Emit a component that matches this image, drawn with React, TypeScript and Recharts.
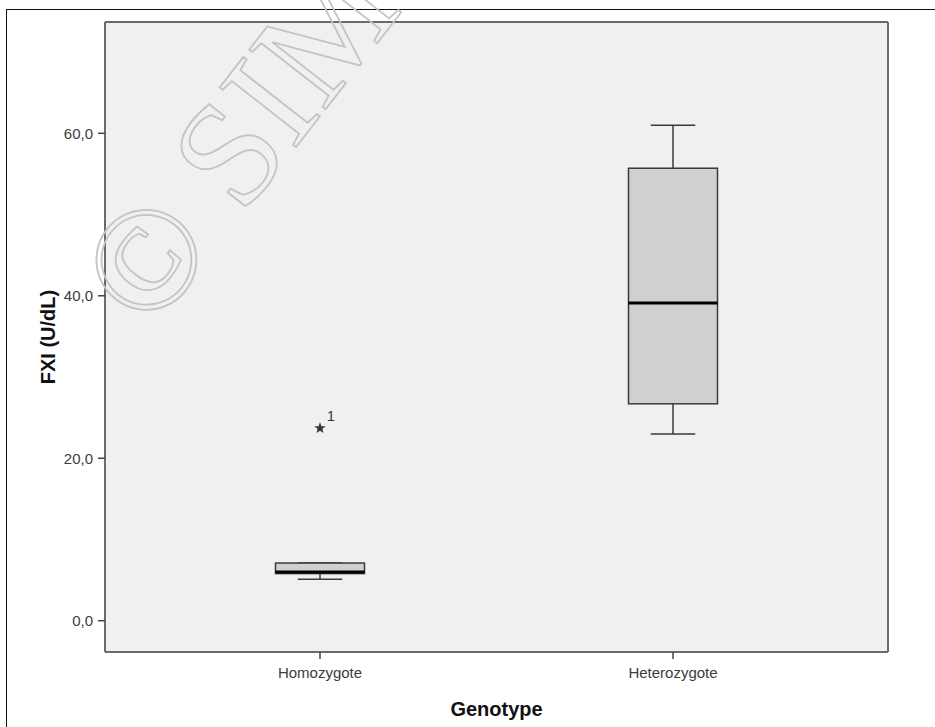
import React from 'react';
import { ComposedChart, Bar, Scatter, XAxis, YAxis, CartesianGrid } from 'recharts';

const genotypes = ['Homozygote', 'Heterozygote'];
const whiskerLow = [5.1, 23.0];
const q1 = [5.8, 26.7];
const median = [6.0, 39.1];
const q3 = [7.1, 55.7];
const whiskerHigh = [7.1, 61.0];
const outliers: (number | null)[] = [23.7, null];
const outlierLabels = ['1', ''];
const yTicks = [0, 20, 40, 60];
const yDomain: [number, number] = [-3.85, 73.7];

const data = genotypes.map((g, i) => ({
  genotype: g,
  box: [q1[i], q3[i]],
  q1: q1[i],
  q3: q3[i],
  median: median[i],
  lo: whiskerLow[i],
  hi: whiskerHigh[i],
  outlier: outliers[i],
  outlierLabel: outlierLabels[i],
}));

const SANS = '"Liberation Sans", Arial, sans-serif';
const FRAME = { stroke: '#6a6a6a', strokeWidth: 2 };

const BoxShape = (props: any) => {
  const { x, y, width, height, payload } = props;
  if (!payload) return <g />;
  const top = Math.min(y, y + height);
  const h = Math.abs(height);
  const k = h / (payload.q3 - payload.q1);
  const py = (v: number) => top + (payload.q3 - v) * k;
  const cx = x + width / 2;
  const cap = width / 4;
  const wc = '#3a3a3a';
  return (
    <g>
      <line x1={cx} x2={cx} y1={py(payload.hi)} y2={top} stroke={wc} strokeWidth={1.5} />
      <line x1={cx} x2={cx} y1={top + h} y2={py(payload.lo)} stroke={wc} strokeWidth={1.5} />
      <line x1={cx - cap} x2={cx + cap} y1={py(payload.hi)} y2={py(payload.hi)} stroke={wc} strokeWidth={1.5} />
      <line x1={cx - cap} x2={cx + cap} y1={py(payload.lo)} y2={py(payload.lo)} stroke={wc} strokeWidth={1.5} />
      <rect x={x} y={top} width={width} height={h} fill="#d0d0d0" stroke={wc} strokeWidth={1.5} />
      <line x1={x} x2={x + width} y1={py(payload.median)} y2={py(payload.median)} stroke="#000" strokeWidth={3} />
    </g>
  );
};

const StarShape = (props: any) => {
  const { cx, cy, payload } = props;
  if (!payload || payload.outlier == null || !Number.isFinite(cx) || !Number.isFinite(cy)) return <g />;
  const pts: string[] = [];
  for (let i = 0; i < 10; i++) {
    const r = i % 2 === 0 ? 6 : 2.5;
    const a = -Math.PI / 2 + (i * Math.PI) / 5;
    pts.push(`${cx + r * Math.cos(a)},${cy + r * Math.sin(a)}`);
  }
  return (
    <g>
      <polygon points={pts.join(' ')} fill="#3a3a3a" />
      <text x={cx + 11} y={cy - 7} textAnchor="middle" fontSize={14} fontFamily={SANS} fill="#333">
        {payload.outlierLabel}
      </text>
    </g>
  );
};

const fmt = (v: number) => v.toFixed(1).replace('.', ',');

export default function App() {
  return (
    <div style={{ position: 'absolute', left: 0, top: 0, width: 935, height: 727, background: '#fff', overflow: 'hidden' }}>
      <div style={{ position: 'absolute', left: 6, top: 9, width: 1000, height: 1000, borderLeft: '1.5px solid #111', borderTop: '1.5px solid #111' }} />
      <div style={{ position: 'absolute', left: 0, top: 0 }}>
        <ComposedChart width={935} height={727} data={data} margin={{ top: 21, right: 46, bottom: 0, left: 0 }}>
          <CartesianGrid fill="#f0f0f0" horizontal={false} vertical={false} />
          <XAxis
            dataKey="genotype"
            type="category"
            height={75}
            padding={{ left: 38.5, right: 38.5 }}
            axisLine={FRAME}
            tickLine={{ stroke: '#444', strokeWidth: 1.5 }}
            tickSize={7}
            tickMargin={8}
            tick={{ fill: '#3c3c3c', fontSize: 15, fontFamily: SANS }}
            label={(p: any) => {
              const vb = p.viewBox || {};
              return (
                <text x={vb.x + vb.width / 2} y={vb.y + 57} textAnchor="middle" dominantBaseline="central" fontSize={20} fontWeight="bold" fontFamily={SANS} fill="#111">
                  Genotype
                </text>
              );
            }}
          />
          <XAxis xAxisId="top" dataKey="genotype" type="category" orientation="top" height={1} axisLine={FRAME} tick={false} tickLine={false} />
          <YAxis
            type="number"
            domain={yDomain}
            allowDataOverflow
            ticks={yTicks}
            tickFormatter={fmt}
            width={105}
            axisLine={FRAME}
            tickLine={{ stroke: '#444', strokeWidth: 1.5 }}
            tickSize={7}
            tickMargin={5}
            tick={{ fill: '#3c3c3c', fontSize: 15, fontFamily: SANS }}
            label={(p: any) => {
              const vb = p.viewBox || {};
              const lx = vb.x + 48;
              const ly = vb.y + vb.height / 2;
              return (
                <text x={lx} y={ly} transform={`rotate(-90 ${lx} ${ly})`} textAnchor="middle" dominantBaseline="central" fontSize={20} fontWeight="bold" fontFamily={SANS} fill="#111">
                  FXI (U/dL)
                </text>
              );
            }}
          />
          <YAxis yAxisId="right" type="number" domain={yDomain} orientation="right" width={1} axisLine={FRAME} tick={false} tickLine={false} />
          <Bar dataKey="box" barSize={89} shape={<BoxShape />} isAnimationActive={false} />
          <Scatter dataKey="outlier" shape={<StarShape />} isAnimationActive={false} />
        </ComposedChart>
      </div>
      <svg width={935} height={727} style={{ position: 'absolute', left: 0, top: 0, pointerEvents: 'none' }}>
        <text x={150} y={334} transform="rotate(-52 150 334)" fontSize={148} fontFamily='"Liberation Serif", "DejaVu Serif", serif' fill="none" stroke="#c4c4c4" strokeWidth={1.8}>
          © SIMTI
        </text>
      </svg>
    </div>
  );
}
